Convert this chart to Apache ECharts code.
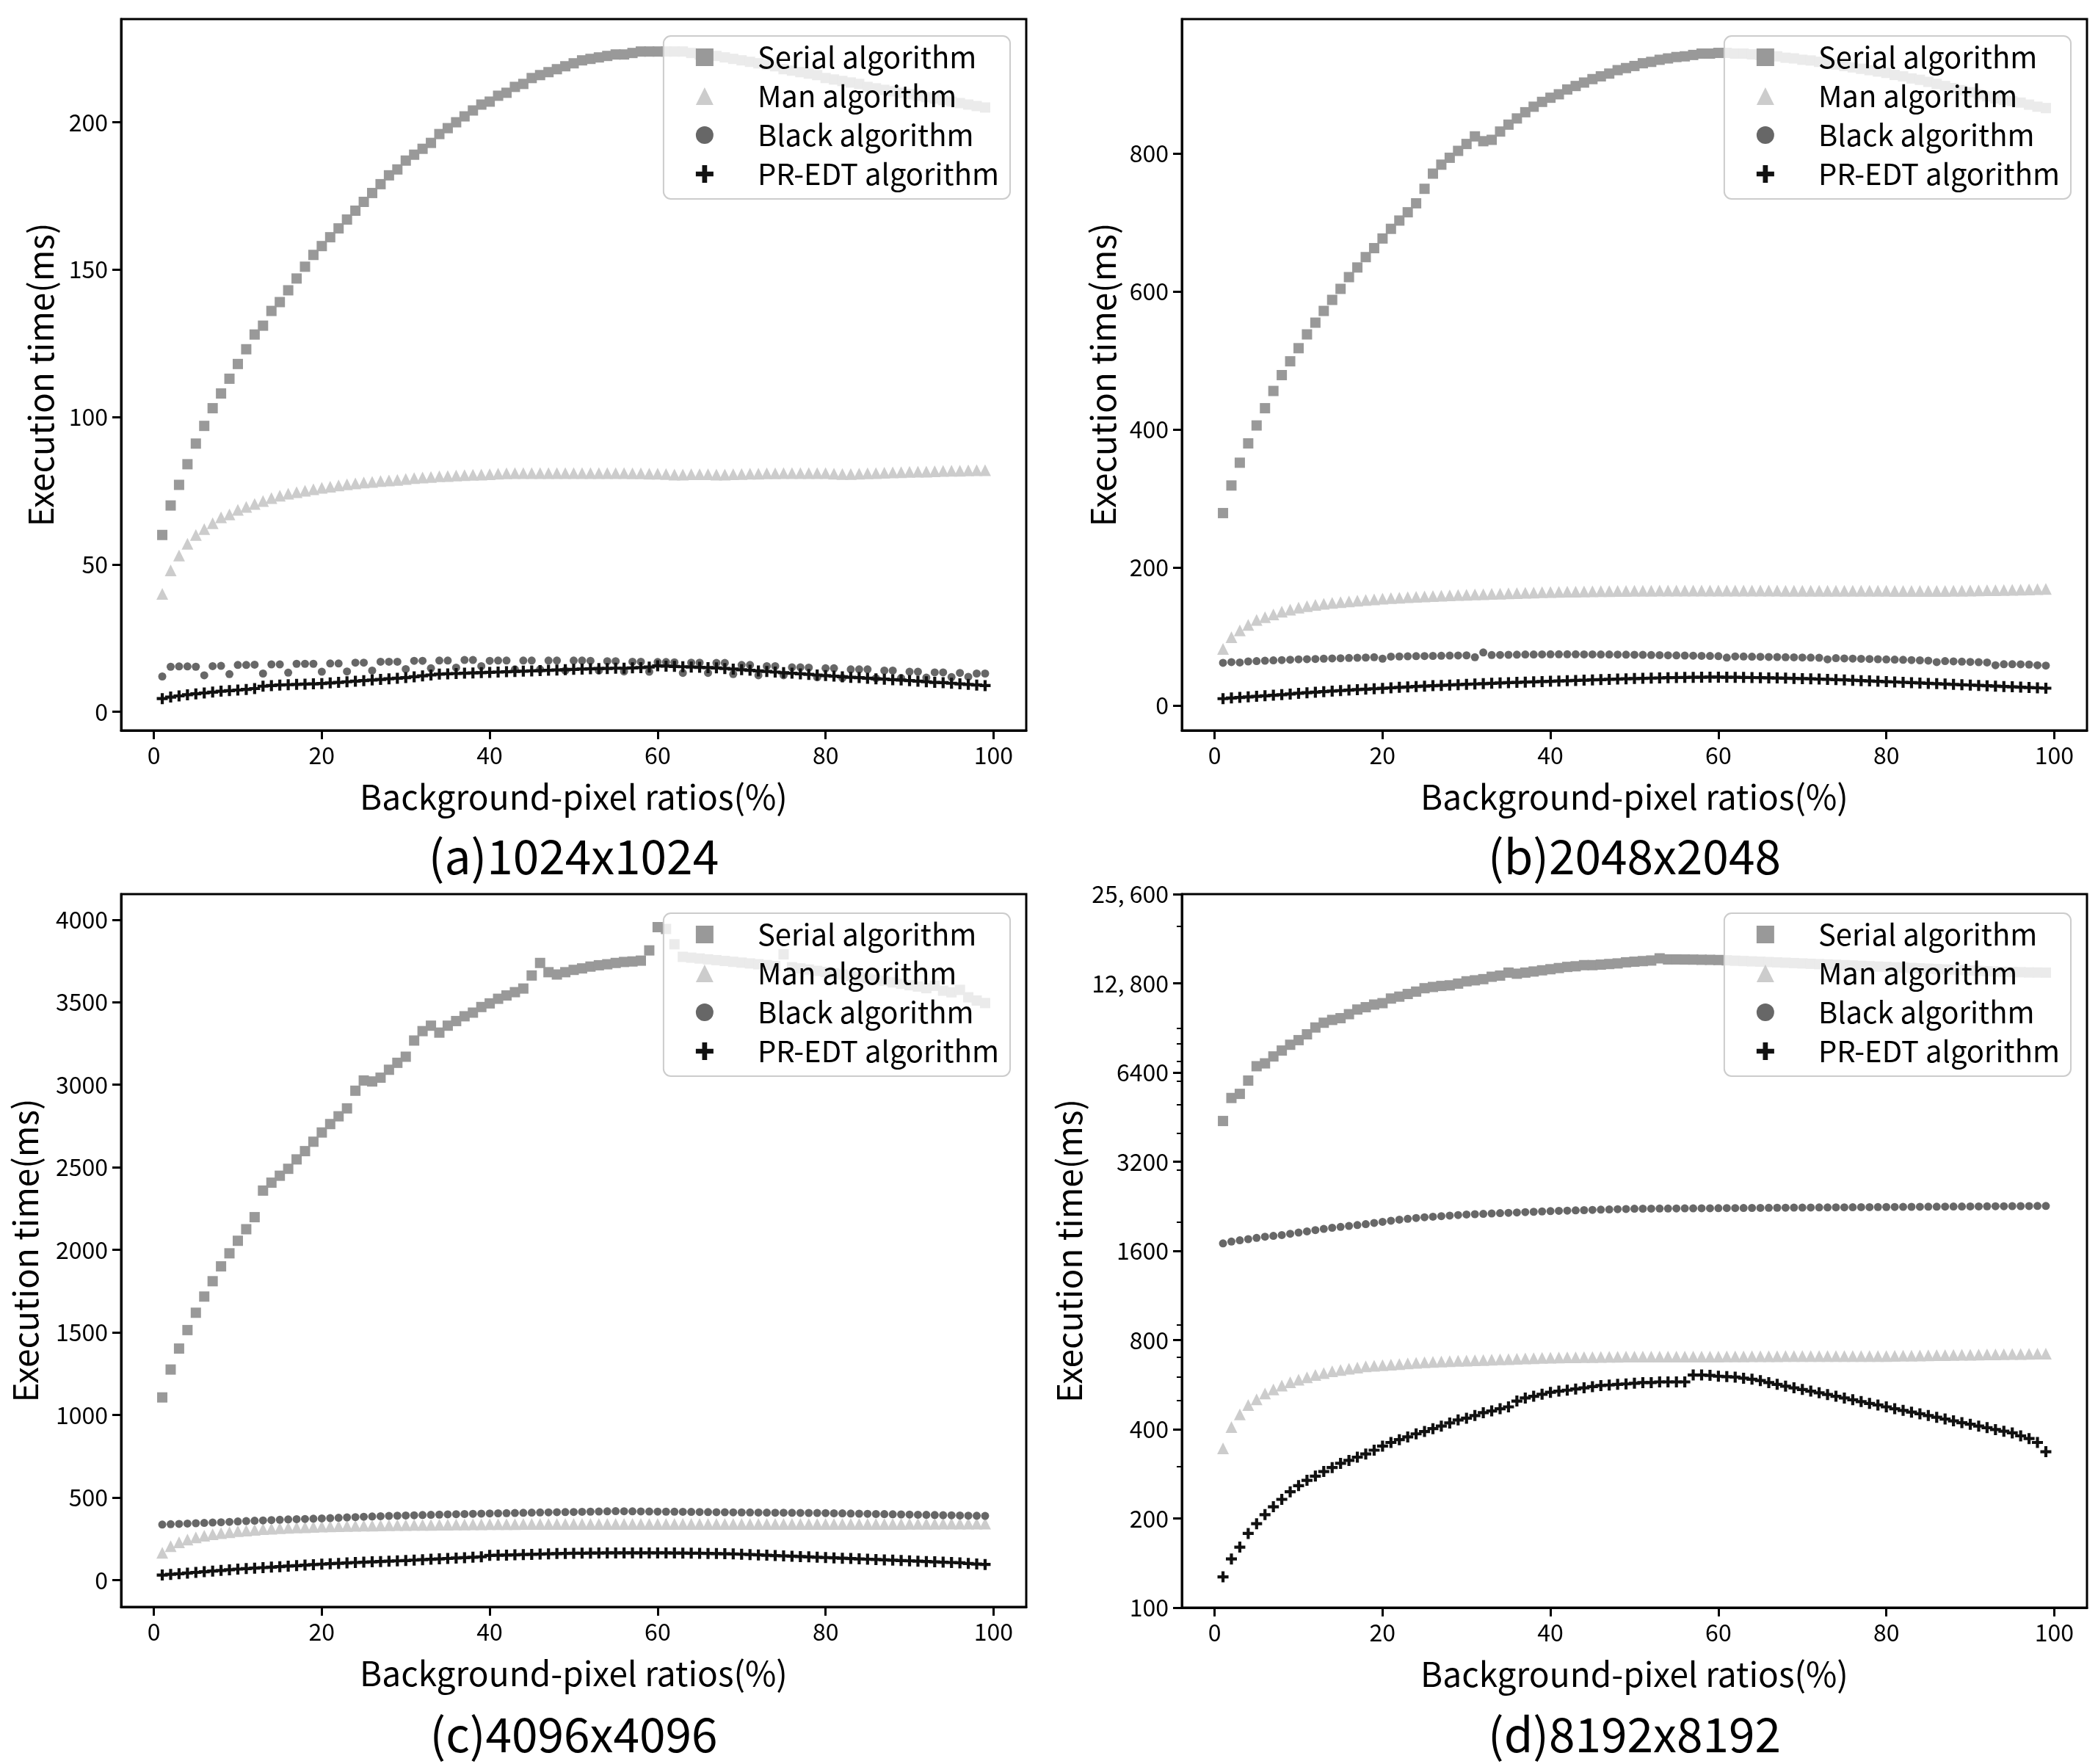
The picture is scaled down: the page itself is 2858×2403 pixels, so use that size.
<!DOCTYPE html>
<html><head><meta charset="utf-8">
<script src="https://cdn.jsdelivr.net/npm/echarts@6/dist/echarts.min.js"></script>
<style>html,body{margin:0;padding:0;background:#fff}#c{width:2858px;height:2403px}</style>
</head><body><div id="c"></div><script>
// ---------- data ----------
const ratios = [1,2,3,4,5,6,7,8,9,10,11,12,13,14,15,16,17,18,19,20,21,22,23,24,25,26,27,28,29,30,31,32,33,34,35,36,37,38,39,40,41,42,43,44,45,46,47,48,49,50,51,52,53,54,55,56,57,58,59,60,61,62,63,64,65,66,67,68,69,70,71,72,73,74,75,76,77,78,79,80,81,82,83,84,85,86,87,88,89,90,91,92,93,94,95,96,97,98,99];
const seriesNames = ['Serial algorithm','Man algorithm','Black algorithm','PR-EDT algorithm'];
const panelTitles = ['(a)1024x1024','(b)2048x2048','(c)4096x4096','(d)8192x8192'];

// (a) 1024x1024
const aSerial = [60,70,77,84,91,97,103,108,113,118,123,128,131,136,139,143,147,151,155,158,161,164,167,170,173,176,179,182,184,187,189,191,193,196,198,200,202,204,206,207,209,210,212,213,215,216,217,218,219,220,221,221.5,222,222.5,223,223,223.5,224,224,224,224,224,224,223.5,223,223,222.5,222,221.5,221,220.5,220,219.5,219,218,217.5,217,216.5,216,215,214.5,214,213.5,213,212,211.5,211,210.5,210,209.5,209,208.5,208,207.5,207,206.5,206,205.5,205];
const aMan = [40,48,53,57,60,62,64,66,67,68.5,69.5,70.5,71.5,72.5,73.3,74,74.5,75,75.5,76,76.4,76.8,77.2,77.5,77.8,78,78.3,78.5,78.7,79,79.3,79.5,79.7,79.9,80,80.2,80.3,80.4,80.5,80.6,80.8,80.9,81,81,81,81,81,81,81,81,81,81,81,81,81,81,80.9,80.9,80.8,80.8,80.7,80.5,80.5,80.6,80.6,80.6,80.5,80.5,80.6,80.7,80.8,80.8,80.9,80.9,81,81,81,81,81,81,80.8,80.7,80.7,80.8,80.9,81,81.1,81.2,81.3,81.4,81.5,81.5,81.6,81.7,81.8,81.8,81.9,82,82];
const aBlack = [12,15.3,15.4,15.4,15.3,12.4,15.5,15.6,12.8,15.9,15.9,16,13,16.1,16.1,13.3,16.3,16.3,16.3,13.6,16.4,16.4,13.7,16.7,16.7,14,17,17,17,14.5,17.3,17.3,14.8,17.4,17.4,15,17.6,17.6,15.5,17.3,17.4,17.4,14.4,17.4,17.4,14.4,17.4,17.4,14,17.4,17.4,17.3,14,17.2,17.2,13.7,17,17,13.6,16.9,16.9,16.8,13.2,16.7,16.7,13.2,16.6,16.6,12.8,15.9,15.9,12.4,15.5,15.5,12.4,15.1,15.1,15,11.7,14.8,14.8,11.5,14.4,14.4,14.4,11.4,14,14,11.5,13.6,13.6,11.6,13.4,13.4,11.8,13.2,11.9,13,13];
const aPR = [4.5,5,5.4,5.8,6.1,6.4,6.7,7,7.2,7.4,7.6,7.9,8.7,8.9,9.1,9.2,9.3,9.4,9.5,9.6,9.8,10,10.2,10.4,10.6,10.8,11,11.2,11.4,11.6,11.9,12.2,12.5,12.8,12.9,13,13.1,13.2,13.3,13.4,13.5,13.6,13.7,13.8,13.9,14,14.1,14.2,14.3,14.4,14.5,14.6,14.7,14.7,14.8,14.8,14.9,15,15.2,15.6,15.5,15.4,15.3,15.2,15.1,15,14.9,14.7,14.5,14.3,14.1,13.9,13.7,13.5,13.3,13.1,12.9,12.7,12.5,12.3,12.1,11.9,11.7,11.6,11.4,11.2,11.1,10.9,10.8,10.6,10.4,10.2,10,9.9,9.7,9.5,9.3,9.1,8.9];

// (b) 2048x2048
const bSerial = [279,319,352,380,406,431,456,479,499,518,538,555,572,588,604,621,635,650,663,677,691,703,715,728,749,771,784,794,804,814,825,818,820,832,842,851,860,868,875,881,886,893,898,903,908,912,916,921,924,927,931,933,936,938,940,941,943,945,945,946,946,945,945,944,943,942,941,939,938,936,935,933,931,929,927,925,923,921,919,917,914,912,909,907,904,901,898,895,892,889,886,883,880,878,876,874,871,868,866];
const bMan = [82,99,109,117,124,128,132,136,139,142,144,146,147.5,149,150,151,152,153,154,155,155.7,156.3,157,157.6,158.2,158.7,159.2,159.7,160.2,160.7,161,161.4,161.8,162.2,162.6,163,163.4,163.8,164.2,164.5,164.8,165,165.2,165.4,165.6,165.8,166,166.1,166.2,166.3,166.4,166.5,166.6,166.6,166.7,166.7,166.8,166.8,166.8,166.8,166.8,166.7,166.7,166.7,166.6,166.6,166.6,166.5,166.5,166.5,166.5,166.5,166.4,166.4,166.4,166.4,166.3,166.3,166.3,166.3,166.2,166.2,166.2,166.2,166.1,166.1,166.1,166.3,166.5,166.7,166.9,167.1,167.3,167.5,167.7,168,168.4,168.8,169];
const bBlack = [62,63,62.5,64,64.5,65,65.5,66,66.5,67,67.3,67.6,68,68.3,68.6,69,69.3,69.6,70,68,71,71.2,71.4,71.6,71.8,72,72.2,72.4,72.6,72.8,70,77,73.2,73.4,73.6,73.8,74,74.1,74.2,74.3,74.3,74.3,74.3,74.2,74.2,74.1,74,73.9,73.8,73.7,73.5,73.3,73.1,72.9,72.7,72.5,72.3,72.1,71.9,71.7,69.5,71.3,71.1,70.9,70.7,70.5,70.3,70.1,69.9,69.7,69.5,69.3,67,68.7,68.4,68.1,67.8,67.5,67.2,66.9,66.6,66.3,66,65.6,65.2,63,64.5,64.1,63.7,63.3,62.9,62.5,58.5,60,60,59.8,59.5,58.5,58];
const bPR = [10,11,11.8,12.6,13.4,14.2,15,15.8,16.8,17.8,18.6,19.4,20.2,21,21.7,22.4,23.1,23.8,24.4,25,25.7,26.4,27,27.6,28.2,28.8,29.3,29.8,30.3,30.8,31.3,31.8,32.3,32.8,33.2,33.6,34,34.4,34.8,35.2,35.6,36,36.4,36.8,37.2,37.6,38,38.4,38.8,39.2,39.5,39.8,40.1,40.4,40.6,40.8,41,41.1,41.2,41.2,41.1,41,40.8,40.6,40.4,40.2,40,39.7,39.4,39.1,38.8,38.4,38,37.6,37.2,36.7,36.2,35.7,35.2,34.7,34.2,33.7,33.2,32.7,32.2,31.7,31.2,30.7,30.2,29.7,29.2,28.7,28.2,27.7,27.2,26.7,26.2,25.7,25.2];

// (c) 4096x4096
const cSerial = [1106,1275,1402,1514,1619,1717,1810,1900,1979,2055,2125,2198,2359,2407,2449,2491,2548,2598,2655,2711,2762,2809,2857,2964,3026,3020,3043,3091,3133,3170,3268,3325,3358,3316,3358,3386,3415,3437,3471,3493,3521,3541,3561,3583,3662,3738,3682,3668,3682,3696,3705,3716,3724,3730,3738,3744,3747,3752,3814,3955,3944,3851,3775,3770,3765,3760,3755,3750,3745,3740,3735,3730,3725,3720,3790,3712,3705,3698,3690,3683,3675,3668,3660,3652,3645,3637,3630,3620,3612,3603,3595,3585,3600,3570,3560,3575,3530,3510,3495];
const cMan = [165,205,228,245,258,268,277,284,290,296,300,304,308,311,314,316,318,320,322,324,325,326,327,328,329,330,331,332,332.5,333,333.5,334,334.5,335,335.5,336,336.5,337,337.5,338,338.3,338.6,338.9,339.2,339.5,339.7,339.9,340,340,340,340,340,340,340,340,340,340,340,340,340,340,340,340,340,340,340,340,340,340,340,339.8,339.8,339.8,339.8,339.8,339.8,339.8,339.8,339.8,339.8,340,340,340,340,340,340,340,340,340,340.5,340.7,341,341,341.2,341.4,341.6,341.8,342,342];
const cBlack = [336,338,340,342,344,346,348,350,352,355,357,359,361,363,365,367,368.5,370,371.5,373,375,377,379,381,383,385,386.5,388,389.5,391,392.3,393.6,394.9,396.2,397.5,398.7,399.9,401,402,403,404,405,406,407,408,409,410,410.8,411.5,412,413,414,415,416,417,416.5,416,415.5,415,414.5,414,413.5,413,412.5,412,411.5,411,410.5,410,409.5,409,408.6,408.2,407.8,407.4,407,406.6,406.2,405.8,405.4,404.5,403.6,402.7,401.8,400.9,400,399.1,398.2,397.3,396.4,395.5,394.6,393.7,392.8,391.9,391,390,389,388];
const cPR = [30,34,38,42,46,50,54,58,62,66,69,72,75,78,81,84,87,90,93,96,98.5,101,103.5,106,108,110,112,114,116,118,120.5,123,125.5,128,130.5,133,135.5,138,140.5,149,150,151,152.5,154,155.5,157,158.5,160,161,162,162.5,163,163.5,164,164,164,164,164,164,164,164,163.5,163,162.5,162,161,160,159,158,156,154,152,150,148,146,144,142,140,138,136,134,132,130,128,126,124,122,120,118,116,114,112,110,108,106,104,100,97,94];

// (d) 8192x8192
const dSerial = [4390,5250,5420,6010,6720,6870,7250,7590,7940,8230,8610,9080,9420,9630,9760,10070,10440,10630,10850,10970,11370,11540,11780,12000,12320,12440,12540,12600,12770,13000,13100,13220,13470,13590,13910,13790,13910,14030,14160,14280,14410,14540,14610,14740,14740,14800,14870,14940,15070,15140,15210,15280,15540,15410,15410,15400,15390,15370,15360,15340,15300,15260,15220,15180,15140,15100,15060,15020,14980,14940,14900,14860,14820,14780,14740,14700,14660,14620,14580,14540,14500,14460,14420,14380,14340,14300,14260,14220,14180,14140,14100,14060,14020,13990,13970,13950,13930,13920,13910];
const dMan = [345,407,449,483,505,528,545,562,576,588,599,610,619,628,634,640,646,652,655,658,661,664,667,670,673,675,677,679,680.5,682,683.6,685.2,686.8,688.4,690,691.6,693.2,694.8,696.4,698,698.6,699.2,699.8,700.4,701,701.6,702.2,702.8,703.4,704,704,704,704,704,704,704,704,704,704,704,704.3,704.6,704.9,705.2,705.5,705.8,706.1,706.4,706.7,707,707,707,707,707,707,707,707,707,707,707,707.7,708.4,709.1,709.8,710.5,711.2,711.9,712.6,713.3,714,714.7,715.4,716.1,716.8,717.5,718.2,718.9,719.5,720];
const dBlack = [1696,1720,1737,1753,1770,1786,1798,1810,1828,1845,1862,1880,1898,1915,1928,1942,1956,1970,1988,2005,2022,2040,2053,2066,2078,2087,2096,2105,2114,2123,2128,2134,2140,2145,2150,2156,2162,2168,2174,2180,2184,2188,2192,2196,2200,2204,2208,2212,2216,2220,2221,2222,2223,2224,2225,2226,2227,2228,2229,2230,2231,2232,2233,2234,2235,2236,2237,2238,2239,2240,2241,2242,2243,2244,2245,2246,2247,2248,2249,2250,2251,2252,2253,2254,2255,2256,2257,2258,2259,2260,2261,2262,2263,2264,2265,2266,2267,2268,2269];
const dPR = [127,146,160,178,192,206,219,232,246,258,269,278,288,297,307,314,322,330,340,351,361,369,377,386,393,402,410,420,430,436,445,455,461,469,476,498,510,517,525,533,538,542,547,552,557,562,564,567,569,572,575,575,578,578,578,578,610,610,608,604,602,600,595,590,584,575,567,559,552,545,538,531,524,517,510,503,496,489,483,476,469,463,457,451,445,439,433,427,421,416,410,405,399,394,389,380,372,361,336];

// ticks
const xTicks = [0,20,40,60,80,100];
const aTicks = [0,50,100,150,200];
const bTicks = [0,200,400,600,800];
const cTicks = [0,500,1000,1500,2000,2500,3000,3500,4000];
const dTicks = [100,200,400,800,1600,3200,6400,12800,25600];
const dTickLabels = ['100','200','400','800','1600','3200','6400','12, 800','25, 600'];
const dMinorTicks = [300,500,600,700,900,2000,3000,4000,5000,6000,7000,8000,9000,20000];

// ---------- chart ----------
const FONT = 'Noto Sans CJK SC';
const PLUS = 'path://M3.6,0H6.4V3.6H10V6.4H6.4V10H3.6V6.4H0V3.6H3.6Z';
const styles = [
  {symbol:'rect', size:14, color:'#999999'},
  {symbol:'triangle', size:16, color:'#cccccc'},
  {symbol:'circle', size:11, color:'#676767'},
  {symbol:PLUS, size:15, color:'#111111'}
];
const panels = [
  {grid:{left:165,top:26,width:1233,height:969}, yMin:-6.3, yMax:235, ticks:aTicks, data:[aSerial,aMan,aBlack,aPR], nameGap:86, titleTop:1130, legendRight:1482, legendTop:49},
  {grid:{left:1610,top:26,width:1233,height:969}, yMin:-36, yMax:995, ticks:bTicks, data:[bSerial,bMan,bBlack,bPR], nameGap:84, titleTop:1130, legendRight:37, legendTop:49},
  {grid:{left:165,top:1218,width:1233,height:971}, yMin:-163, yMax:4155, ticks:cTicks, data:[cSerial,cMan,cBlack,cPR], nameGap:107, titleTop:2326, legendRight:1482, legendTop:1244},
  {grid:{left:1610,top:1218,width:1233,height:972}, log:true, yMin:100, yMax:25600, ticks:dTicks, labels:dTickLabels, data:[dSerial,dMan,dBlack,dPR], nameGap:130, titleTop:2326, legendRight:37, legendTop:1244}
];

const axisText = {fontFamily:FONT, fontSize:32, color:'#000'};
const nameText = {fontFamily:FONT, fontSize:46, color:'#000'};
const plain = (v) => String(v);
const grids=[], xAxes=[], yAxes=[], series=[], legends=[], titles=[];

panels.forEach((p, i) => {
  grids.push(Object.assign({show:true, borderColor:'#000', borderWidth:3, backgroundColor:'#fff'}, p.grid));
  xAxes.push({
    type:'value', gridIndex:i, min:-3.9, max:103.9,
    name:'Background-pixel ratios(%)', nameLocation:'middle', nameGap:68, nameTextStyle:nameText,
    axisLine:{show:true, onZero:false, lineStyle:{color:'#000', width:3}},
    axisTick:{show:true, customValues:xTicks, length:12, lineStyle:{color:'#000', width:3}},
    axisLabel:{customValues:xTicks, margin:18, formatter:plain, ...axisText},
    splitLine:{show:false}
  });
  const y = {
    type: p.log ? 'log' : 'value', gridIndex:i, min:p.yMin, max:p.yMax,
    name:'Execution time(ms)', nameLocation:'middle', nameGap:p.nameGap, nameTextStyle:nameText,
    axisLine:{show:true, onZero:false, lineStyle:{color:'#000', width:3}},
    axisTick:{show:true, customValues:p.ticks, length:12, lineStyle:{color:'#000', width:3}},
    axisLabel:{customValues:p.ticks, margin:18, formatter:plain, ...axisText},
    splitLine:{show:false}
  };
  if (p.log) {
    y.logBase = 2;
    y.axisLabel.formatter = (v) => {
      let best = 0, bd = Infinity;
      dTicks.forEach((t, k) => { const d = Math.abs(Math.log(v) - Math.log(t)); if (d < bd) { bd = d; best = k; } });
      return dTickLabels[best];
    };
  }
  yAxes.push(y);
  const yIndex = yAxes.length - 1;
  if (p.log) {
    yAxes.push({
      type:'log', logBase:2, gridIndex:i, min:p.yMin, max:p.yMax, position:'left',
      axisLine:{show:false, onZero:false}, axisLabel:{show:false}, splitLine:{show:false},
      axisTick:{show:true, customValues:dMinorTicks, length:7, lineStyle:{color:'#000', width:2}}
    });
  }
  p.data.forEach((arr, k) => {
    series.push({
      type:'scatter', name:seriesNames[k], xAxisIndex:i, yAxisIndex:yIndex,
      data: arr.map((v, j) => [ratios[j], v]),
      symbol:styles[k].symbol, symbolSize:styles[k].size,
      itemStyle:{color:styles[k].color, opacity:1},
      silent:true, animation:false
    });
  });
  legends.push({
    data:seriesNames, orient:'vertical', right:p.legendRight, top:p.legendTop,
    itemWidth:24, itemHeight:24, itemGap:13, padding:[9,15,14,44],
    backgroundColor:'rgba(255,255,255,0.8)', borderColor:'#cccccc', borderWidth:2, borderRadius:10,
    selectedMode:false,
    textStyle:{fontFamily:FONT, fontSize:40, color:'#000', padding:[0,0,0,55]}
  });
  const cx = p.grid.left + p.grid.width/2;
  titles.push({
    text:panelTitles[i], left:cx-5, top:p.titleTop, textAlign:'center',
    textStyle:{fontFamily:FONT, fontSize:64, fontWeight:'normal', color:'#000'}
  });
});

const chart = echarts.init(document.getElementById('c'), null, {renderer:'canvas'});
chart.setOption({
  animation:false, backgroundColor:'#fff',
  title:titles, grid:grids, xAxis:xAxes, yAxis:yAxes, legend:legends, series:series
});
</script></body></html>
